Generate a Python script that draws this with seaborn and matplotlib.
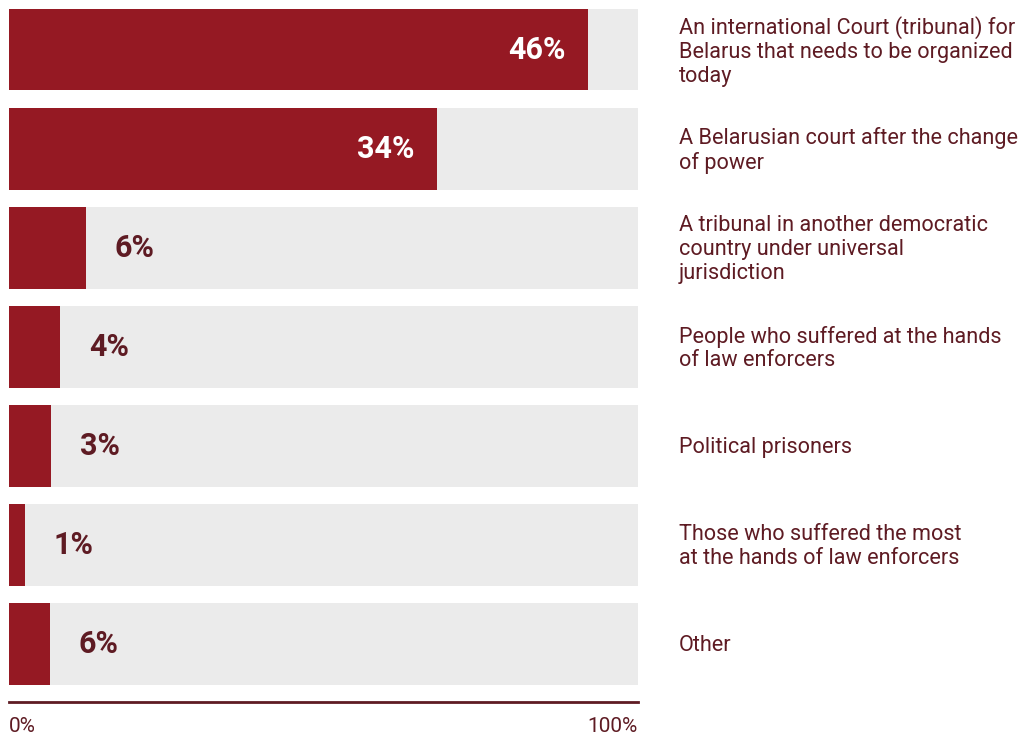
import matplotlib
matplotlib.use("Agg")
import matplotlib.pyplot as plt
import seaborn as sns
import pandas as pd

categories = [
    "An international Court (tribunal) for\nBelarus that needs to be organized\ntoday",
    "A Belarusian court after the change\nof power",
    "A tribunal in another democratic\ncountry under universal\njurisdiction",
    "People who suffered at the hands\nof law enforcers",
    "Political prisoners",
    "Those who suffered the most\nat the hands of law enforcers",
    "Other",
]
value_labels = ["46%", "34%", "6%", "4%", "3%", "1%", "6%"]
bar_lengths = [92, 68, 12.2, 8.1, 6.7, 2.5, 6.5]   # bar length as read on the 0–100% axis
axis_max = [100] * 7
tick_labels = ["0%", "100%"]

RED = "#951923"
GRAY = "#ebebeb"
MAROON = "#5e1b23"

sns.set_theme(style="white")
plt.rcParams["font.family"] = ["Roboto", "DejaVu Sans"]

df = pd.DataFrame({"cat": categories, "len": bar_lengths, "full": axis_max, "lab": value_labels})

fig = plt.figure(figsize=(10.32, 7.37), dpi=100)
ax = fig.add_axes([9 / 1032, 35 / 737, 629 / 1032, 702 / 737])

sns.barplot(data=df, y="cat", x="full", orient="h", color=GRAY, width=0.828,
            saturation=1, ax=ax, linewidth=0)
sns.barplot(data=df, y="cat", x="len", orient="h", color=RED, width=0.828,
            saturation=1, ax=ax, linewidth=0)

ax.set_xlim(0, 100)
ax.set_ylim(6.59, -0.5)
ax.set_xticks([])
ax.set_yticks([])
ax.set_xlabel("")
ax.set_ylabel("")
for s in ["top", "right", "left"]:
    ax.spines[s].set_visible(False)
ax.spines["bottom"].set_color(MAROON)
ax.spines["bottom"].set_linewidth(2)

for i, (L, lab) in enumerate(zip(bar_lengths, value_labels)):
    if L > 30:
        ax.annotate(lab, xy=(L, i), xytext=(-22, 0), textcoords="offset pixels",
                    ha="right", va="center", color="white", fontsize=22,
                    fontweight="bold")
    else:
        ax.annotate(lab, xy=(L, i), xytext=(29, 0), textcoords="offset pixels",
                    ha="left", va="center", color=MAROON, fontsize=22,
                    fontweight="bold")

for i, c in enumerate(categories):
    ax.annotate(c, xy=(1, i), xycoords=("axes fraction", "data"),
                xytext=(41, -2), textcoords="offset pixels",
                ha="left", va="center", color=MAROON, fontsize=15.6,
                linespacing=1.17, annotation_clip=False)

ax.text(0, -0.035, tick_labels[0], transform=ax.transAxes, ha="left", va="center",
        color=MAROON, fontsize=15)
ax.text(1, -0.035, tick_labels[1], transform=ax.transAxes, ha="right", va="center",
        color=MAROON, fontsize=15)

fig.savefig("out.png", dpi=100)
